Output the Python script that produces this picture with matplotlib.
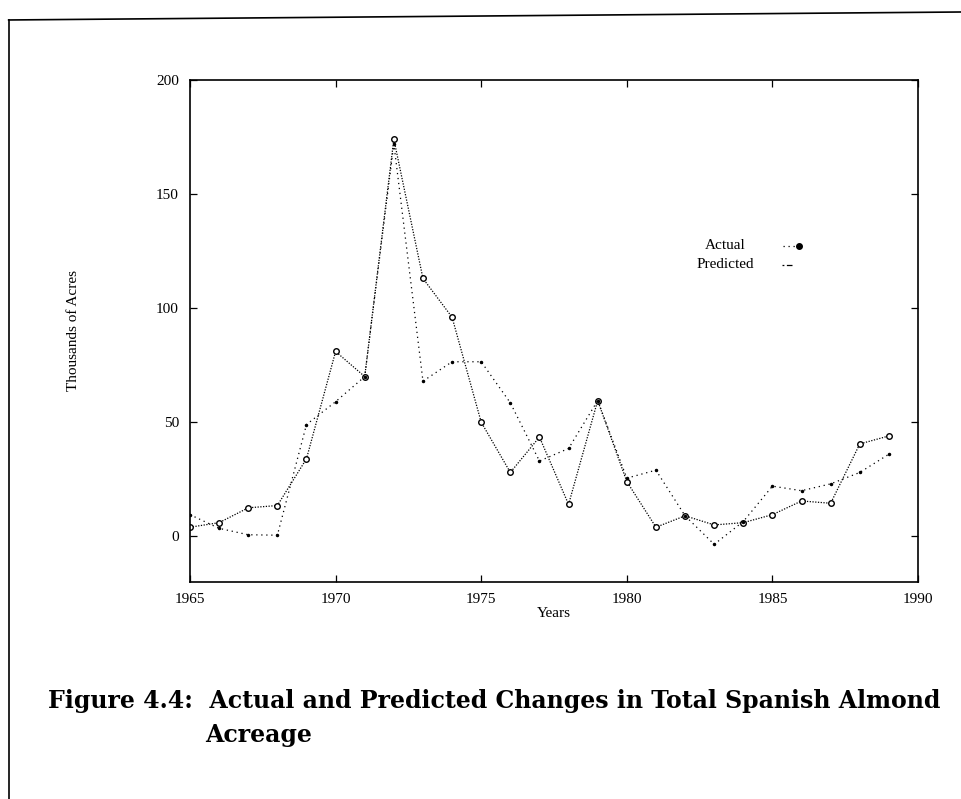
import matplotlib
matplotlib.use("Agg")
import matplotlib.pyplot as plt
from matplotlib.lines import Line2D

years = list(range(1965, 1990))
actual = [4, 6, 12.5, 13.5, 34, 81, 70, 174, 113, 96, 50, 28, 43.5, 14, 59.5,
          24, 4, 9, 5, 6, 9.5, 15.5, 14.5, 40.5, 44]
predicted = [9.5, 3.5, 0.7, 0.5, 49, 59, 70, 172, 68, 76.5, 76.5, 58.5, 33, 38.5, 59.5,
             25.5, 29, 9, -3.5, 6.5, 22, 20, 23, 28, 36]

x_ticks = [1965, 1970, 1975, 1980, 1985, 1990]
y_ticks = [0, 50, 100, 150, 200]

plt.rcParams['font.family'] = ['Liberation Serif', 'DejaVu Serif']

fig = plt.figure(figsize=(9.62, 7.99), dpi=100)
ax = fig.add_axes([0.1975, 0.2716, 0.7568, 0.6284])

ax.plot(years, actual, color='black', linewidth=0.9, linestyle=(0, (1, 1.2)),
        marker='o', markersize=4, markerfacecolor='white', markeredgewidth=1.0)
ax.plot(years, predicted, color='black', linewidth=0.9, linestyle=(0, (1, 3)),
        marker='.', markersize=3)

ax.set_xlim(1965, 1990)
ax.set_ylim(-20, 200)
ax.set_xticks(x_ticks)
ax.set_yticks(y_ticks)
ax.tick_params(direction='in', length=5, width=0.9, labelsize=11, top=True, right=True,
               pad=8)
for s in ax.spines.values():
    s.set_linewidth(1.2)

ax.set_xlabel('Years', fontsize=11, labelpad=1)
ax.set_ylabel('Thousands of Acres', fontsize=11, labelpad=55)

# legend as text
fig.text(705 / 962, 1 - 246 / 799, 'Actual', ha='left', va='center', fontsize=11)
fig.text(697 / 962, 1 - 265 / 799, 'Predicted', ha='left', va='center', fontsize=11)
fig.add_artist(Line2D([783 / 962, 799 / 962], [1 - 246 / 799] * 2, color='black', linewidth=0.9,
                      linestyle=(0, (1, 3)), transform=fig.transFigure))
fig.add_artist(Line2D([799 / 962], [1 - 246 / 799], color='black', marker='o', markersize=4,
                      markerfacecolor='black', transform=fig.transFigure))
fig.add_artist(Line2D([782 / 962, 792 / 962], [1 - 265 / 799] * 2, color='black', linewidth=0.9,
                      linestyle=(0, (1.5, 2, 5, 1)), transform=fig.transFigure))

# page frame
fig.add_artist(Line2D([0.009, 0.009], [0.0, 0.975], color='black', linewidth=1.2))
fig.add_artist(Line2D([0.009, 1.0], [0.975, 0.985], color='black', linewidth=1.2))

# caption
fig.text(0.05, 0.123, 'Figure 4.4:  Actual and Predicted Changes in Total Spanish Almond',
         fontsize=17, fontweight='bold', family=['DejaVu Serif'], ha='left', va='center')
fig.text(0.213, 0.080, 'Acreage', fontsize=17, fontweight='bold', family=['DejaVu Serif'],
         ha='left', va='center')

fig.savefig('out.png', dpi=100)
